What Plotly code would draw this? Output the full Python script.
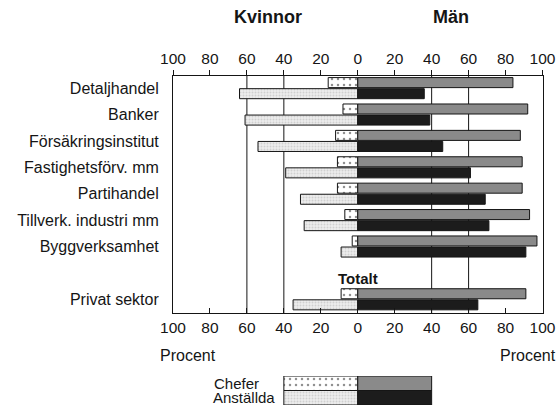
import plotly.graph_objects as go

# Andel kvinnor och män bland chefer och anställda, per bransch (procent)
categories = [
    "Detaljhandel",
    "Banker",
    "Försäkringsinstitut",
    "Fastighetsförv. mm",
    "Partihandel",
    "Tillverk. industri mm",
    "Byggverksamhet",
    "Privat sektor",
]
women_chefer = [16, 8, 12, 11, 11, 7, 3, 9]
men_chefer = [84, 92, 88, 89, 89, 93, 97, 91]
women_anstallda = [64, 61, 54, 39, 31, 29, 9, 35]
men_anstallda = [36, 39, 46, 61, 69, 71, 91, 65]

tick_values = [-100, -80, -60, -40, -20, 0, 20, 40, 60, 80, 100]
tick_labels = ["100", "80", "60", "40", "20", "0", "20", "40", "60", "80", "100"]
grid_values = [-60, -40, 40, 60]

# blank slot above the total row
category_order = categories[:-1] + [" "] + categories[-1:]

FONT = "Liberation Sans, Arial, Helvetica, sans-serif"
INK = "#151515"
W, H = 557, 405

styles = {
    "wc": dict(color="white", line=dict(color=INK, width=1),
               pattern=dict(shape=".", fgcolor="#222222", bgcolor="white",
                            size=6, solidity=0.14)),
    "wa": dict(color="#e6e6e6", line=dict(color=INK, width=1),
               pattern=dict(shape=".", fgcolor="#b4b4b4", bgcolor="#ececec",
                            size=3, solidity=0.3)),
    "mc": dict(color="#8a8a8a", line=dict(color=INK, width=1)),
    "ma": dict(color="#1c1c1c", line=dict(color=INK, width=1)),
}

BAR_W = 0.38
fig = go.Figure()

def neg(vals):
    return [-v for v in vals]

fig.add_trace(go.Bar(y=categories, x=neg(women_chefer), orientation="h",
                     marker=styles["wc"], width=BAR_W, offset=-0.40,
                     showlegend=False, name="Chefer, kvinnor"))
fig.add_trace(go.Bar(y=categories, x=men_chefer, orientation="h",
                     marker=styles["mc"], width=BAR_W, offset=-0.40,
                     showlegend=False, name="Chefer, män"))
fig.add_trace(go.Bar(y=categories, x=neg(women_anstallda), orientation="h",
                     marker=styles["wa"], width=BAR_W, offset=0.02,
                     showlegend=False, name="Anställda, kvinnor"))
fig.add_trace(go.Bar(y=categories, x=men_anstallda, orientation="h",
                     marker=styles["ma"], width=BAR_W, offset=0.02,
                     showlegend=False, name="Anställda, män"))

# top axis carrier
fig.add_trace(go.Scatter(x=[None], y=[None], xaxis="x2", yaxis="y",
                         showlegend=False, hoverinfo="skip"))

# key below the chart: swatches on their own small axis
KEY_W = 40
key_rows = ["Chefer", "Anställda"]
for row, left, right in [("Chefer", "wc", "mc"), ("Anställda", "wa", "ma")]:
    fig.add_trace(go.Bar(y=[row], x=[-KEY_W], orientation="h", xaxis="x",
                         yaxis="y3", marker=styles[left], width=1,
                         showlegend=False, hoverinfo="skip"))
    fig.add_trace(go.Bar(y=[row], x=[KEY_W], orientation="h", xaxis="x",
                         yaxis="y3", marker=styles[right], width=1,
                         showlegend=False, hoverinfo="skip"))

x_dom = [173 / W, 542.5 / W]
main_dom = [1 - 313 / H, 1 - 76 / H]
key_dom = [0, 1 - 376 / H]

axis_font = dict(family=FONT, size=15.5, color=INK)

fig.update_layout(
    width=W, height=H,
    margin=dict(l=0, r=0, t=0, b=0, autoexpand=False),
    paper_bgcolor="white", plot_bgcolor="rgba(0,0,0,0)",
    barmode="overlay",
    font=dict(family=FONT, color=INK),
    xaxis=dict(domain=x_dom, range=[-100, 100], anchor="y", automargin=False,
               tickmode="array", tickvals=tick_values, ticktext=tick_labels,
               ticks="inside", ticklen=5, tickcolor=INK, tickwidth=1,
               showline=True, linecolor=INK, linewidth=1,
               showgrid=False, zeroline=False, tickfont=axis_font),
    xaxis2=dict(domain=x_dom, range=[-100, 100], overlaying="x", side="top",
                anchor="y", automargin=False, tickmode="array",
                tickvals=tick_values, ticktext=tick_labels, ticks="outside",
                ticklen=5, tickcolor=INK, tickwidth=1, showline=True,
                linecolor=INK, linewidth=1, showgrid=False, zeroline=False,
                tickfont=axis_font),
    yaxis=dict(domain=main_dom, type="category", categoryorder="array",
               categoryarray=category_order, range=[8.52, -0.46],
               anchor="x", automargin=False, showline=True, mirror=True,
               linecolor=INK, linewidth=1, ticks="", ticklabelstandoff=10,
               showgrid=False, zeroline=False,
               tickfont=dict(family=FONT, size=16, color=INK)),
    yaxis3=dict(domain=key_dom, type="category", categoryorder="array",
                categoryarray=key_rows, range=[1.5, -0.5], anchor="x",
                automargin=False, showline=False, showgrid=False,
                zeroline=False, ticks="", showticklabels=False),
)

for gv in grid_values:
    fig.add_shape(type="line", xref="x", yref="y domain", x0=gv, x1=gv,
                  y0=0, y1=1, line=dict(color=INK, width=1), layer="below")

fig.add_annotation(text="<b>Totalt</b>", x=0, y=" ", xref="x", yref="y",
                   yshift=-6, showarrow=False,
                   font=dict(family=FONT, size=15, color=INK))

# free-standing texts, placed in pixels from the top-left corner
def label(text, px, py, size, anchor="center"):
    fig.add_annotation(text=text, x=px / W, y=1 - py / H, xref="paper",
                       yref="paper", xanchor=anchor, yanchor="middle",
                       showarrow=False, borderpad=0,
                       font=dict(family=FONT, size=size, color=INK))

label("<b>Kvinnor</b>", 267.5, 17, 18)
label("<b>Män</b>", 451, 17, 18)
label("Procent", 159, 355, 16, "left")
label("Procent", 557, 355, 16, "right")
label("Chefer", 213, 383, 15, "left")
label("Anställda", 212, 397.5, 15, "left")

fig.write_html("out.html")
